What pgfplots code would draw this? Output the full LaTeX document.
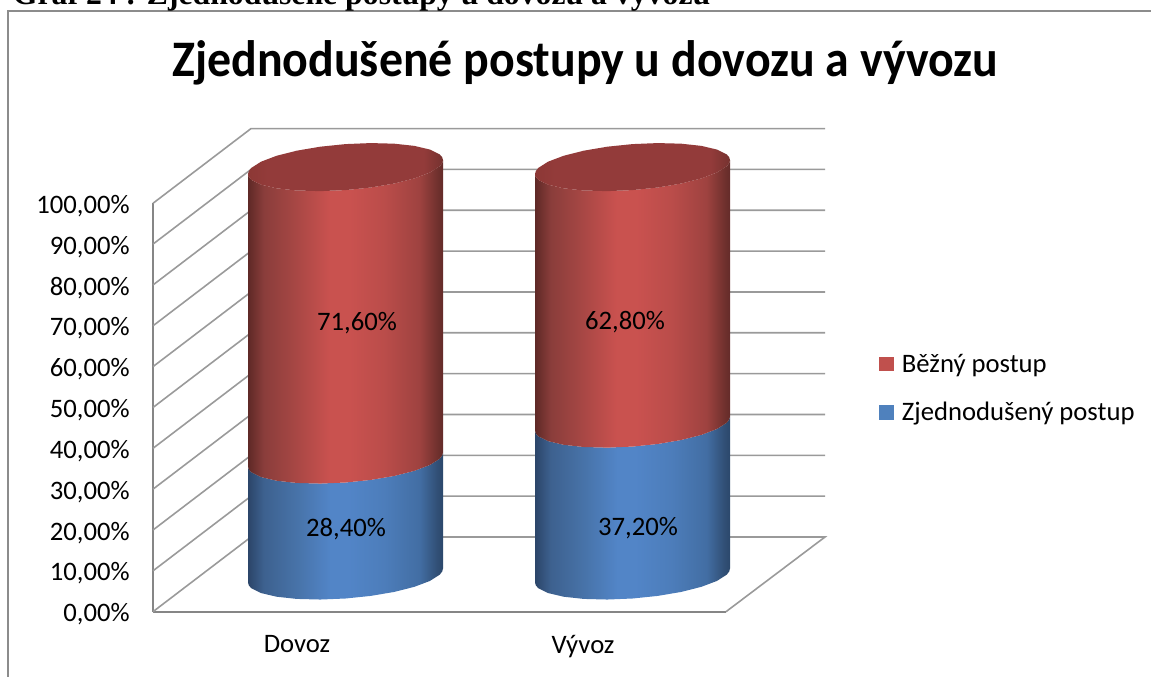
\documentclass[border=0pt]{standalone}
\usepackage{graphicx}
\usepackage{pgfplots}
\pgfplotsset{compat=1.18}
\usepackage{pgfplotstable}
\usepackage{fontspec}
\setmainfont{Carlito}
\newfontfamily\headfont{Liberation Serif}
\definecolor{gridc}{HTML}{9A9A9A}
\definecolor{axc}{HTML}{868686}
\definecolor{framec}{HTML}{8C8C8C}
\definecolor{legred}{HTML}{C0504D}
\definecolor{legblue}{HTML}{4F81BD}
\pgfdeclarehorizontalshading{redcyl}{100bp}{
 rgb(0bp)=(0.37,0.16,0.15); rgb(25bp)=(0.37,0.16,0.15);
 rgb(29bp)=(0.54,0.24,0.23); rgb(37.5bp)=(0.66,0.28,0.27);
 rgb(46bp)=(0.79,0.32,0.31); rgb(51bp)=(0.79,0.32,0.31);
 rgb(60bp)=(0.73,0.30,0.29); rgb(69bp)=(0.62,0.26,0.25);
 rgb(73.5bp)=(0.44,0.19,0.18); rgb(75bp)=(0.39,0.17,0.16); rgb(100bp)=(0.39,0.17,0.16)}
\pgfdeclarehorizontalshading{bluecyl}{100bp}{
 rgb(0bp)=(0.17,0.27,0.41); rgb(25bp)=(0.17,0.27,0.41);
 rgb(29bp)=(0.24,0.38,0.56); rgb(37.5bp)=(0.28,0.45,0.66);
 rgb(46bp)=(0.32,0.52,0.78); rgb(51bp)=(0.32,0.52,0.78);
 rgb(60bp)=(0.30,0.49,0.73); rgb(69bp)=(0.26,0.43,0.64);
 rgb(73.5bp)=(0.19,0.31,0.46); rgb(75bp)=(0.17,0.28,0.42); rgb(100bp)=(0.17,0.28,0.42)}
\pgfdeclarehorizontalshading{topcyl}{100bp}{
 rgb(0bp)=(0.55,0.22,0.21); rgb(25bp)=(0.55,0.22,0.21);
 rgb(30bp)=(0.576,0.231,0.227); rgb(70bp)=(0.576,0.231,0.227);
 rgb(74.5bp)=(0.47,0.20,0.19); rgb(100bp)=(0.47,0.20,0.19)}
% cylinder side: front arc at the base, then front arc at the top
\pgfplotstableread{
dx off top
-97.5 -7 0
-96.66 -9.94 0
-94.2 -12.71 0
-84.4 -17.56 0
-68.9 -21.21 0
-48.75 -23.42 0
-25.2 -24.03 0
0 -23 0
25.2 -20.41 0
48.75 -16.42 0
68.9 -11.31 0
84.4 -5.44 0
94.2 0.81 0
96.66 3.94 0
97.5 7 0
97.5 7 1
96.66 3.94 1
94.2 0.81 1
84.4 -5.44 1
68.9 -11.31 1
48.75 -16.42 1
25.2 -20.41 1
0 -23 1
-25.2 -24.03 1
-48.75 -23.42 1
-68.9 -21.21 1
-84.4 -17.56 1
-94.2 -12.71 1
-96.66 -9.94 1
-97.5 -7 1
}\cylside
% top face outline
\pgfplotstableread{
dx off
97.5 7
96.66 3.94
94.2 0.81
84.4 -5.44
68.9 -11.31
48.75 -16.42
25.2 -20.41
0 -23
-25.2 -24.03
-48.75 -23.42
-68.9 -21.21
-84.4 -17.56
-94.2 -12.71
-96.66 -9.94
-97.5 -7
-96.66 -3.94
-94.2 -0.81
-84.4 5.44
-68.9 11.31
-48.75 16.42
-25.2 20.41
0 23
25.2 24.03
48.75 23.42
68.9 21.21
84.4 17.56
94.2 12.71
96.66 9.94
}\cyltop
% args: shading, centre x (px), base (%), height (%)
\newcommand\cylseg[4]{\addplot[forget plot,draw=none,shade,shading=#1] table[x expr=\thisrow{dx}+#2,y expr=\thisrow{off}/4.084+8.86+#3+\thisrow{top}*#4]{\cylside};}
\newcommand\cylcap[1]{\addplot[forget plot,draw=none,shade,shading=topcyl] table[x expr=\thisrow{dx}+#1,y expr=\thisrow{off}/4.084+108.86]{\cyltop};}
\begin{document}
\begin{tikzpicture}[x=1pt,y=1pt]
\clip[use as bounding box] (0,0) rectangle (863.25pt,507.75pt);
\draw[framec,line width=1.3pt] (6pt,-5pt) -- (6pt,499.5pt) -- (870pt,499.5pt);
\node[anchor=base west,inner sep=0pt,font=\headfont\bfseries\fontsize{23.8}{24}\selectfont] at (9.5pt,504.5pt) {Graf 24 : Zjednodušené postupy u dovozu a vývozu};
\node[anchor=base,inner sep=0pt,font=\bfseries\fontsize{35.9}{36}\selectfont] at (438.75pt,450pt) {\scalebox{1}[1.07]{Zjednodušené postupy u dovozu a vývozu}};
\begin{axis}[
 at={(114.75pt,48.98pt)},anchor=south west,
 scale only axis,width=429.75pt,height=306.3pt,
 xmin=153,xmax=726,ymin=0,ymax=100,clip=false,
 axis x line*=bottom,axis y line*=left,
 axis line style={axc,line width=1.5pt,-},
 xtick={297,583},xticklabels={Dovoz,Vývoz},
 ytick={0,10,...,100},
 major tick length=0pt,
 yticklabel={\pgfmathprintnumber[fixed,fixed zerofill,precision=2,use comma,assume math mode=true]{\tick}\%},
 tick label style={font=\fontsize{20}{20}\selectfont},
 xticklabel style={yshift=-14pt},
 yticklabel style={xshift=-14pt,yshift=-2pt},
 legend style={draw=none,fill=none,at={(axis cs:879,54.7)},anchor=west,
   font=\fontsize{20}{20}\selectfont,row sep=17pt,inner sep=0pt},
 legend cell align=left,
 legend image code/.code={\path[draw=none,fill,#1] (0pt,-5.5pt) rectangle (11pt,5.5pt);\path[draw=none,fill=none] (0pt,0pt) rectangle (15pt,0.1pt);},
]
% walls and floor
\addplot[forget plot,gridc,line width=1.2pt] coordinates {(153,10) (251,28.29) (825,28.29)};
\addplot[forget plot,gridc,line width=1.2pt] coordinates {(153,20) (251,38.29) (825,38.29)};
\addplot[forget plot,gridc,line width=1.2pt] coordinates {(153,30) (251,48.29) (825,48.29)};
\addplot[forget plot,gridc,line width=1.2pt] coordinates {(153,40) (251,58.29) (825,58.29)};
\addplot[forget plot,gridc,line width=1.2pt] coordinates {(153,50) (251,68.29) (825,68.29)};
\addplot[forget plot,gridc,line width=1.2pt] coordinates {(153,60) (251,78.29) (825,78.29)};
\addplot[forget plot,gridc,line width=1.2pt] coordinates {(153,70) (251,88.29) (825,88.29)};
\addplot[forget plot,gridc,line width=1.2pt] coordinates {(153,80) (251,98.29) (825,98.29)};
\addplot[forget plot,gridc,line width=1.2pt] coordinates {(153,90) (251,108.29) (825,108.29)};
\addplot[forget plot,gridc,line width=1.2pt] coordinates {(153,100) (251,118.29) (825,118.29)};
\addplot[forget plot,gridc,line width=1.2pt] coordinates {(153,0) (251,18.29) (825,18.29) (726,0)};
% cylinders
\cylseg{bluecyl}{345.5}{0}{28.4}
\cylseg{redcyl}{345.5}{28.4}{71.6}
\cylcap{345.5}
\cylseg{bluecyl}{632.5}{0}{37.2}
\cylseg{redcyl}{632.5}{37.2}{62.8}
\cylcap{632.5}
\node[font=\fontsize{20}{20}\selectfont] at (axis cs:346,20.3) {28,40\%};
\node[font=\fontsize{20}{20}\selectfont] at (axis cs:357,70.7) {71,60\%};
\node[font=\fontsize{20}{20}\selectfont] at (axis cs:638,20.5) {37,20\%};
\node[font=\fontsize{20}{20}\selectfont] at (axis cs:625,70.9) {62,80\%};
\addlegendimage{fill=legred,draw=none}
\addlegendentry{Běžný postup}
\addlegendimage{fill=legblue,draw=none}
\addlegendentry{Zjednodušený postup}
\end{axis}
\end{tikzpicture}
\end{document}
